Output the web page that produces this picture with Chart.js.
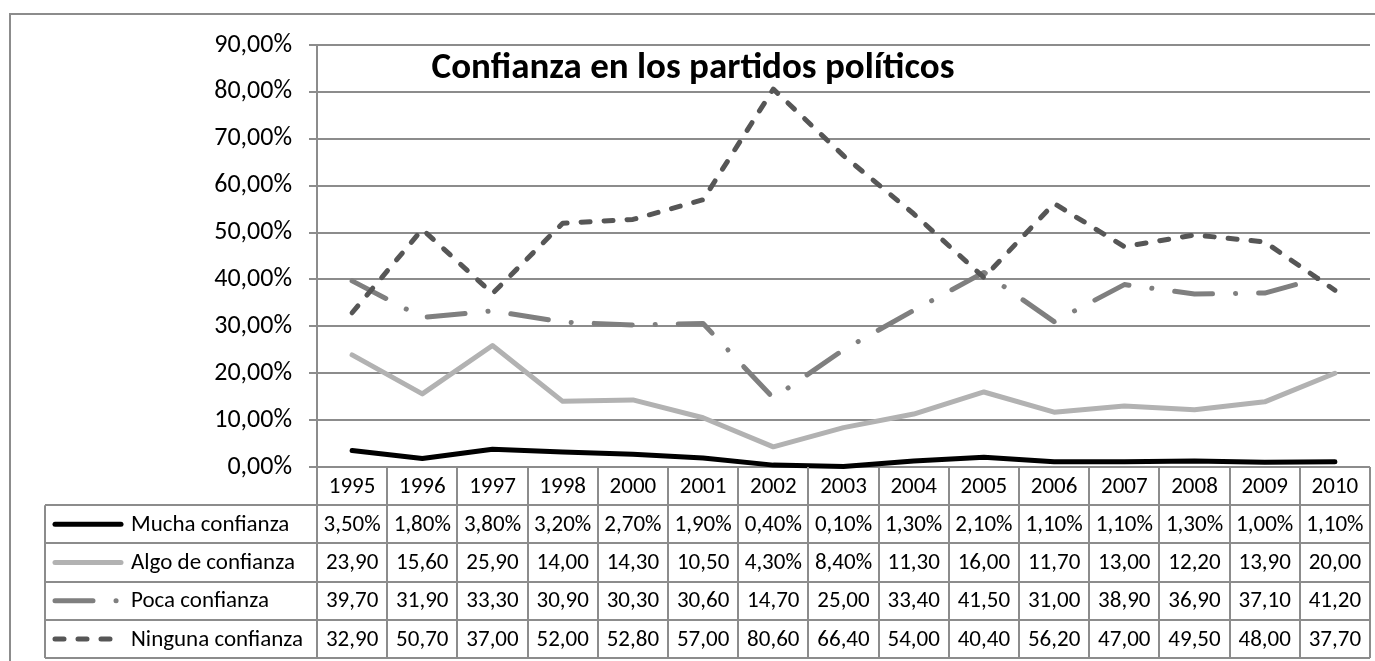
<!DOCTYPE html>
<html>
<head>
<meta charset="utf-8">
<title>Confianza en los partidos políticos</title>
<script src="https://cdn.jsdelivr.net/npm/chart.js@4/dist/chart.umd.min.js"></script>
<style>
  html, body { margin: 0; padding: 0; background: #fff; overflow: hidden; }
  canvas { display: block; }
</style>
</head>
<body>
<canvas id="chart" width="1375" height="661"></canvas>
<script>
const years = ["1995", "1996", "1997", "1998", "2000", "2001", "2002", "2003",
  "2004", "2005", "2006", "2007", "2008", "2009", "2010"];

const mucha = [3.5, 1.8, 3.8, 3.2, 2.7, 1.9, 0.4, 0.1, 1.3, 2.1, 1.1, 1.1, 1.3, 1.0, 1.1];
const algo = [23.9, 15.6, 25.9, 14.0, 14.3, 10.5, 4.3, 8.4, 11.3, 16.0, 11.7, 13.0, 12.2, 13.9, 20.0];
const poca = [39.7, 31.9, 33.3, 30.9, 30.3, 30.6, 14.7, 25.0, 33.4, 41.5, 31.0, 38.9, 36.9, 37.1, 41.2];
const ninguna = [32.9, 50.7, 37.0, 52.0, 52.8, 57.0, 80.6, 66.4, 54.0, 40.4, 56.2, 47.0, 49.5, 48.0, 37.7];

const seriesNames = ["Mucha confianza", "Algo de confianza", "Poca confianza", "Ninguna confianza"];
const chartTitle = "Confianza en los partidos políticos";

const FONT = '"Calibri", "Open Sans", sans-serif';
const GRID = "#8c8c8c";
const ROW_H = 38.2;

// Excel style: small values keep their % sign
function fmt(v) {
  const s = v.toFixed(2).replace(".", ",");
  return v < 10 ? s + "%" : s;
}

function series(label, data, color, dash, order) {
  return {
    label, data, order,
    borderColor: color,
    borderWidth: 5,
    borderDash: dash,
    borderCapStyle: "round",
    borderJoinStyle: "round",
    pointRadius: 0,
    tension: 0,
    fill: false,
    clip: 10
  };
}

// frame, title and the data table below the plot
const tablePlugin = {
  id: "tablePlugin",
  beforeDraw(chart) {
    const ctx = chart.ctx;
    ctx.save();
    ctx.strokeStyle = GRID;
    ctx.lineWidth = 2;
    ctx.beginPath();
    ctx.moveTo(10, chart.height);
    ctx.lineTo(10, 14);
    ctx.lineTo(chart.width, 14);
    ctx.stroke();
    ctx.restore();
  },
  afterDraw(chart) {
    const ctx = chart.ctx;
    const area = chart.chartArea;
    const x = chart.scales.x;
    const colW = (area.right - area.left) / years.length;
    const top = area.bottom;
    const legendLeft = 45;
    const bottom = top + ROW_H * (seriesNames.length + 1);

    ctx.save();
    // title
    ctx.fillStyle = "#000";
    ctx.font = "bold 37px " + FONT;
    ctx.textAlign = "center";
    ctx.textBaseline = "alphabetic";
    ctx.fillText(chartTitle, 693, 78);

    // grid of the table
    ctx.strokeStyle = GRID;
    ctx.lineWidth = 2;
    ctx.beginPath();
    for (let i = 0; i <= years.length; i++) {
      const cx = Math.round(area.left + i * colW);
      ctx.moveTo(cx, top);
      ctx.lineTo(cx, bottom);
    }
    ctx.moveTo(legendLeft, top + ROW_H);
    ctx.lineTo(legendLeft, bottom);
    for (let r = 1; r <= seriesNames.length + 1; r++) {
      const ry = Math.round(top + r * ROW_H);
      ctx.moveTo(legendLeft, ry);
      ctx.lineTo(area.right, ry);
    }
    ctx.stroke();

    // header years
    ctx.fillStyle = "#000";
    ctx.font = "23px " + FONT;
    ctx.textAlign = "center";
    ctx.textBaseline = "middle";
    years.forEach((yr, i) => {
      ctx.fillText(yr, x.getPixelForValue(i), top + ROW_H / 2 + 1);
    });

    // rows: legend key, name, values
    chart.data.datasets.forEach((ds, r) => {
      const cy = top + ROW_H * (r + 1.5) + 1;
      ctx.save();
      ctx.strokeStyle = ds.borderColor;
      ctx.lineWidth = ds.borderWidth;
      ctx.lineCap = "round";
      ctx.setLineDash(ds.borderDash);
      ctx.beginPath();
      ctx.moveTo(55, cy - 1);
      ctx.lineTo(121, cy - 1);
      ctx.stroke();
      ctx.restore();

      ctx.textAlign = "left";
      ctx.fillText(ds.label, 131, cy);
      ctx.textAlign = "center";
      ds.data.forEach((v, i) => {
        ctx.fillText(fmt(v), x.getPixelForValue(i), cy);
      });
    });
    ctx.restore();
  }
};

new Chart(document.getElementById("chart"), {
  type: "line",
  data: {
    labels: years,
    datasets: [
      series(seriesNames[0], mucha, "#000000", [], 3),
      series(seriesNames[1], algo, "#b2b2b2", [], 2),
      series(seriesNames[2], poca, "#7f7f7f", [38, 23, 0.1, 23], 1),
      series(seriesNames[3], ninguna, "#565656", [9, 14], 0)
    ]
  },
  options: {
    responsive: false,
    animation: false,
    devicePixelRatio: 1,
    layout: { padding: { left: 0, right: 5, top: 45, bottom: 194 } },
    plugins: {
      legend: { display: false },
      tooltip: { enabled: false },
      title: { display: false }
    },
    scales: {
      x: {
        display: false,
        offset: true
      },
      y: {
        min: 0,
        max: 90,
        afterFit(scale) { scale.width = 317; },
        ticks: {
          stepSize: 10,
          color: "#000",
          padding: 17,
          font: { family: FONT, size: 26 },
          callback: (v) => v.toFixed(2).replace(".", ",") + "%"
        },
        grid: { color: GRID, lineWidth: 2, tickLength: 8 },
        border: { display: true, color: GRID, width: 2 }
      }
    }
  },
  plugins: [tablePlugin]
});
</script>
</body>
</html>
